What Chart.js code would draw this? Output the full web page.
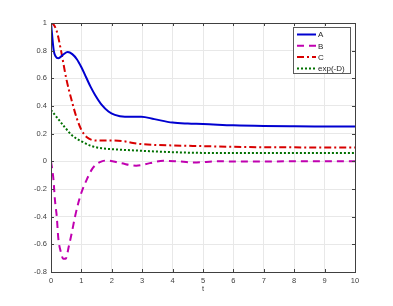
<!DOCTYPE html>
<html lang="en">
<head>
<meta charset="UTF-8" />
<title>Responses</title>
<style>
  body { margin: 0; background: #fff; }
  #wrap { width: 393px; height: 306px; }
</style>
</head>
<body>
<div id="wrap"><canvas id="chart" width="393" height="306"></canvas></div>
<script src="https://cdn.jsdelivr.net/npm/chart.js"></script>
<script>
  // values
  const tA = [0, 0.09, 0.15, 0.24, 0.4, 0.55, 0.7, 0.85, 1, 1.15, 1.3, 1.45, 1.67, 1.89, 2.1, 2.43, 2.97, 3.4, 4, 4.5, 5, 6, 7, 8, 9, 10];
  const valA = [1, 0.8, 0.76, 0.745, 0.772, 0.79, 0.775, 0.738, 0.68, 0.61, 0.54, 0.48, 0.408, 0.36, 0.336, 0.323, 0.323, 0.305, 0.28, 0.273, 0.27, 0.26, 0.255, 0.253, 0.252, 0.251];

  const tB = [0, 0.08, 0.13, 0.19, 0.24, 0.33, 0.4, 0.48, 0.59, 0.68, 0.79, 0.9, 1.01, 1.18, 1.34, 1.5, 1.67, 1.85, 2.3, 2.8, 3.25, 3.7, 4.15, 4.7, 5.5, 6.5, 8, 10];
  const valB = [0, -0.13, -0.28, -0.4, -0.555, -0.66, -0.705, -0.705, -0.61, -0.52, -0.4, -0.3, -0.22, -0.13, -0.06, -0.02, 0, 0.006, -0.013, -0.032, -0.013, 0.004, 0, -0.008, 0, -0.002, 0, 0];

  const tC = [0, 0.08, 0.19, 0.33, 0.5, 0.68, 0.85, 1, 1.18, 1.34, 1.56, 2, 2.4, 2.7, 3, 3.5, 4, 5, 6, 7, 8, 9, 10];
  const valC = [1, 0.99, 0.94, 0.8, 0.6, 0.44, 0.31, 0.227, 0.174, 0.155, 0.15, 0.15, 0.145, 0.132, 0.124, 0.118, 0.115, 0.11, 0.105, 0.102, 0.101, 0.1, 0.1];

  const tD = [0, 0.35, 0.68, 1, 1.34, 1.67, 2, 3, 4, 5, 6, 7, 8, 9, 10];
  const valD = [0.371, 0.275, 0.19, 0.145, 0.11, 0.094, 0.088, 0.076, 0.066, 0.061, 0.06, 0.06, 0.06, 0.06, 0.06];

  const xTicks = [0, 1, 2, 3, 4, 5, 6, 7, 8, 9, 10];
  const yTicks = [-0.8, -0.6, -0.4, -0.2, 0, 0.2, 0.4, 0.6, 0.8, 1];
  const seriesNames = ['A', 'B', 'C', 'exp(-D)'];

  function pts(ts, vs) {
    return ts.map((t, i) => ({ x: t, y: vs[i] }));
  }

  const axisColor = '#404040';
  const gridColor = '#e8e8e8';
  const fontFam = "'Liberation Sans', Arial, sans-serif";

  // inward tick marks on all four sides, like the original figure
  const boxTicks = {
    id: 'boxTicks',
    afterDatasetsDraw(chart) {
      const c = chart.ctx, a = chart.chartArea;
      const xs = chart.scales.x, ys = chart.scales.y;
      c.save();
      c.strokeStyle = axisColor;
      c.lineWidth = 1;
      c.beginPath();
      xTicks.forEach(v => {
        const px = Math.round(xs.getPixelForValue(v)) + 0.5;
        c.moveTo(px, a.bottom); c.lineTo(px, a.bottom - 3);
        c.moveTo(px, a.top); c.lineTo(px, a.top + 3);
      });
      yTicks.forEach(v => {
        const py = Math.round(ys.getPixelForValue(v)) + 0.5;
        c.moveTo(a.left, py); c.lineTo(a.left + 3, py);
        c.moveTo(a.right, py); c.lineTo(a.right - 3, py);
      });
      c.stroke();
      c.strokeRect(Math.round(a.left) + 0.5, Math.round(a.top) + 0.5,
                   Math.round(a.right - a.left), Math.round(a.bottom - a.top));
      c.restore();
    }
  };

  // legend box in the upper right corner
  const boxLegend = {
    id: 'boxLegend',
    afterDraw(chart) {
      const c = chart.ctx;
      const x0 = 293, y0 = 27, w = 57, h = 46;
      c.save();
      c.fillStyle = '#fff';
      c.fillRect(x0, y0, w, h);
      c.strokeStyle = '#5a5a5a';
      c.lineWidth = 1;
      c.strokeRect(x0 + 0.5, y0 + 0.5, w, h);
      c.font = '8px ' + fontFam;
      c.textBaseline = 'middle';
      chart.data.datasets.forEach((ds, i) => {
        const y = y0 + 7.5 + i * 11.3;
        c.strokeStyle = ds.borderColor;
        c.lineWidth = ds.borderWidth;
        c.setLineDash(ds.borderDash || []);
        c.beginPath();
        c.moveTo(x0 + 4, y);
        c.lineTo(x0 + 23, y);
        c.stroke();
        c.setLineDash([]);
        c.fillStyle = '#262626';
        c.fillText(seriesNames[i], x0 + 25, y + 0.5);
      });
      c.restore();
    }
  };

  new Chart(document.getElementById('chart'), {
    type: 'line',
    data: {
      datasets: [
        { label: seriesNames[0], data: pts(tA, valA), borderColor: '#0000d0', borderWidth: 2, cubicInterpolationMode: 'monotone' },
        { label: seriesNames[1], data: pts(tB, valB), borderColor: '#c000b0', borderWidth: 2, borderDash: [7, 5], cubicInterpolationMode: 'monotone' },
        { label: seriesNames[2], data: pts(tC, valC), borderColor: '#d80000', borderWidth: 2, borderDash: [7, 3, 2, 3], cubicInterpolationMode: 'monotone' },
        { label: seriesNames[3], data: pts(tD, valD), borderColor: '#007000', borderWidth: 2, borderDash: [2, 2], cubicInterpolationMode: 'monotone' }
      ]
    },
    options: {
      responsive: false,
      animation: false,
      layout: { padding: { left: 0, right: 38, top: 23, bottom: 13 } },
      elements: { point: { radius: 0 } },
      plugins: { legend: { display: false }, tooltip: { enabled: false } },
      scales: {
        x: {
          type: 'linear',
          min: 0, max: 10,
          afterBuildTicks: s => { s.ticks = xTicks.map(v => ({ value: v })); },
          afterFit: s => { s.height = 21; },
          grid: { color: gridColor, drawTicks: false },
          border: { display: false },
          ticks: { color: axisColor, padding: 4, font: { family: fontFam, size: 7.5 }, maxRotation: 0 },
          title: { display: true, text: 't', color: axisColor, padding: 0, font: { family: fontFam, size: 7.5 } }
        },
        y: {
          min: -0.8, max: 1,
          afterBuildTicks: s => { s.ticks = yTicks.map(v => ({ value: v })); },
          afterFit: s => { s.width = 51; },
          grid: { color: gridColor, drawTicks: false },
          border: { display: false },
          ticks: {
            color: axisColor, padding: 4, font: { family: fontFam, size: 7.5 },
            callback: v => String(Math.round(v * 10) / 10)
          }
        }
      }
    },
    plugins: [boxTicks, boxLegend]
  });
</script>
</body>
</html>
